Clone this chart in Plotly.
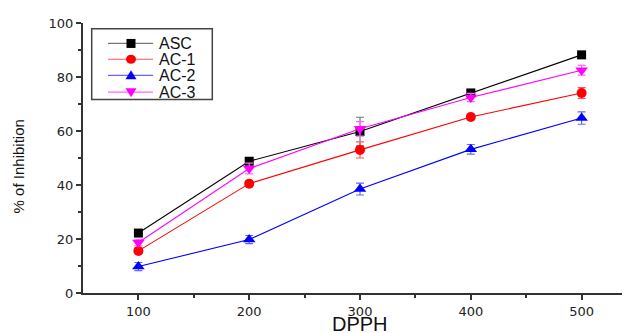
import plotly.graph_objects as go

x_vals = [100, 200, 300, 400, 500]
asc = [22.2, 48.8, 59.8, 74.1, 88.2]
asc_err = [0.5, 0.8, 5.3, 0.8, 0.6]
ac1 = [15.6, 40.5, 53.0, 65.2, 74.1]
ac1_err = [0.8, 0.8, 3.0, 1.0, 2.0]
ac2 = [9.8, 19.8, 38.5, 53.2, 64.8]
ac2_err = [1.5, 1.5, 2.2, 1.8, 2.3]
ac3 = [18.7, 46.1, 60.8, 72.4, 82.5]
ac3_err = [1.2, 2.0, 2.7, 1.5, 1.8]
names = ["ASC", "AC-1", "AC-2", "AC-3"]
y_ticks = [0, 20, 40, 60, 80, 100]

colors = ["black", "red", "blue", "magenta"]
light = ["#777777", "#ff5555", "#6666ff", "#ff66ff"]
symbols = ["square", "circle", "triangle-up", "triangle-down"]
sizes = [9, 10, 11, 11]
data = [asc, ac1, ac2, ac3]
errs = [asc_err, ac1_err, ac2_err, ac3_err]

# page body has 8px margin -> plot area in window: x 83..630, y 19.3..292.7
OFF = 8
L, T, R, B = 83, 19.3, 630, 292.7
W, H = 630, 333


def px(X):
    return (X - L) / (R - L)


def py(Y):
    return (B - Y) / (B - T)


fig = go.Figure()
for name, ys, er, col, lc, sym, sz in zip(names, data, errs, colors, light, symbols, sizes):
    fig.add_trace(go.Scatter(
        x=x_vals, y=ys, name=name, mode="lines+markers", showlegend=False,
        line=dict(color=col, width=1.1),
        marker=dict(symbol=sym, size=sz, color=col, line=dict(width=0)),
        error_y=dict(type="data", array=er, visible=True, color=lc,
                     thickness=1.2, width=4),
    ))

fig.update_layout(
    width=W, height=H,
    margin=dict(l=L - OFF, r=W - (R - OFF), t=T - OFF, b=H - (B - OFF)),
    plot_bgcolor="white", paper_bgcolor="white",
    font=dict(family="DejaVu Sans", color="#222", size=13),
    showlegend=False,
)
fig.update_xaxes(range=[50, 50 + (R - L) / 1.108], tickvals=x_vals, ticks="outside",
                 ticklen=5, tickwidth=1.5, tickcolor="#333", showline=True,
                 linecolor="#333", linewidth=2, showgrid=False, zeroline=False,
                 minor=dict(tickvals=[150, 250, 350, 450], ticks="outside",
                            ticklen=3, tickwidth=1.5, tickcolor="#333"))
fig.update_yaxes(range=[0, 100], tickvals=y_ticks, ticks="outside",
                 ticklen=5, tickwidth=1.5, tickcolor="#333", showline=True,
                 linecolor="#333", linewidth=2, showgrid=False, zeroline=False,
                 minor=dict(tickvals=[10, 30, 50, 70, 90], ticks="outside",
                            ticklen=3, tickwidth=1.5, tickcolor="#333"))

# axis titles
fig.add_annotation(text="% of Inhibition", textangle=-90, xref="paper", yref="paper",
                   x=px(18.5), y=py(165), xanchor="center", yanchor="middle",
                   showarrow=False,
                   font=dict(family="Liberation Sans", size=15, color="#111"))
fig.add_annotation(text="DPPH", xref="x", yref="paper", x=300, y=py(324),
                   xanchor="center", yanchor="middle", showarrow=False,
                   font=dict(family="Liberation Sans", size=20, color="#111"))

# custom legend (box, line samples, markers, labels)
fig.add_shape(type="rect", xref="paper", yref="paper",
              x0=px(91.7), x1=px(212.3), y0=py(25), y1=py(96.7),
              line=dict(color="#444", width=1.5), fillcolor="white", layer="above")
rows = [40, 56, 72.3, 89.3]
for name, col, lc, sym, Y in zip(names, colors, light, symbols, rows):
    fig.add_shape(type="line", xref="paper", yref="paper",
                  x0=px(108), x1=px(153), y0=py(Y), y1=py(Y),
                  line=dict(color=lc, width=1.2), layer="above")
    common = dict(xref="paper", yref="paper", xsizemode="pixel", ysizemode="pixel",
                  xanchor=px(131), yanchor=py(Y), fillcolor=col,
                  line=dict(width=0), layer="above")
    if sym == "square":
        fig.add_shape(type="rect", x0=-4.5, x1=4.5, y0=-4.5, y1=4.5, **common)
    elif sym == "circle":
        fig.add_shape(type="circle", x0=-5, x1=5, y0=-4.5, y1=4.5, **common)
    elif sym == "triangle-up":
        fig.add_shape(type="path", path="M-5.5,-4 L5.5,-4 L0,5 Z", **common)
    else:
        fig.add_shape(type="path", path="M-5.5,4 L5.5,4 L0,-5 Z", **common)
    fig.add_annotation(text=name, xref="paper", yref="paper", x=px(157), y=py(Y),
                       xanchor="left", yanchor="middle", showarrow=False,
                       font=dict(family="Liberation Sans", size=16, color="#111"))

fig.write_html("out.html")
